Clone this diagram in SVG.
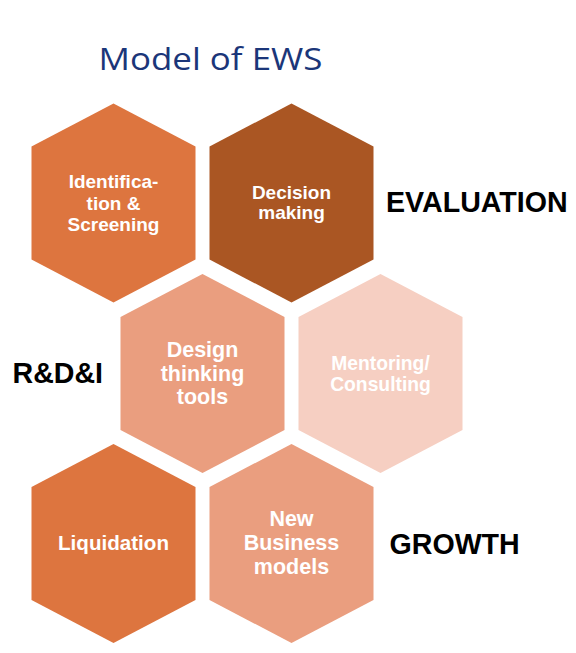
<svg xmlns="http://www.w3.org/2000/svg" width="576" height="653" viewBox="0 0 576 653">
<style>
.hx{stroke:none}
.t1{font-family:"Liberation Sans",Arial,sans-serif;font-weight:bold;font-size:19px;fill:#fff;text-anchor:middle}
.t2{font-family:"Liberation Sans",Arial,sans-serif;font-weight:bold;font-size:21.5px;fill:#fff;text-anchor:middle}
.lb{font-family:"Liberation Sans",Arial,sans-serif;font-weight:bold;font-size:28.6px;fill:#000}
.title{font-family:"Open Sans","Noto Sans",sans-serif;font-size:31px;fill:#1B3679;text-anchor:middle}
</style>
<rect width="576" height="653" fill="#fff"/>
<g id="title"><text class="title" x="210.5" y="70" textLength="224" lengthAdjust="spacingAndGlyphs">Model of EWS</text></g>
<g id="connectors"></g>
<g id="identification">
<polygon class="hx" fill="#DD753F" points="113.5,103.5 195.5,146.5 195.5,259.5 113.5,302.5 31.5,259.5 31.5,146.5"/>
<text class="t1" x="113.5" y="188">Identifica-</text>
<text class="t1" x="113.5" y="209.5">tion &amp;</text>
<text class="t1" x="113.5" y="230.5">Screening</text>
</g>
<g id="decision">
<polygon class="hx" fill="#AA5623" points="291.5,103.5 373.5,146.5 373.5,259.5 291.5,302.5 209.5,259.5 209.5,146.5"/>
<text class="t1" x="291.5" y="199">Decision</text>
<text class="t1" x="291.5" y="218.5">making</text>
</g>
<g id="design">
<polygon class="hx" fill="#EA9E7F" points="202.5,274 284.5,317 284.5,430 202.5,473 120.5,430 120.5,317"/>
<text class="t2" x="202.5" y="356.7">Design</text>
<text class="t2" x="202.5" y="380.5">thinking</text>
<text class="t2" x="202.5" y="403.5">tools</text>
</g>
<g id="mentoring">
<polygon class="hx" fill="#F6CFC2" points="380.5,274 462.5,317 462.5,430 380.5,473 298.5,430 298.5,317"/>
<text class="t1" x="380.5" y="370" style="font-size:19.3px">Mentoring/</text>
<text class="t1" x="380.5" y="391" style="font-size:19.3px">Consulting</text>
</g>
<g id="liquidation">
<polygon class="hx" fill="#DD753F" points="113.5,444 195.5,487 195.5,600 113.5,643 31.5,600 31.5,487"/>
<text class="t2" x="113.5" y="550" style="font-size:20.6px">Liquidation</text>
</g>
<g id="new-business">
<polygon class="hx" fill="#EA9E7F" points="291.5,444 373.5,487 373.5,600 291.5,643 209.5,600 209.5,487"/>
<text class="t2" x="291.5" y="526">New</text>
<text class="t2" x="291.5" y="550">Business</text>
<text class="t2" x="291.5" y="573.5">models</text>
</g>
<g id="label-evaluation"><text class="lb" x="386" y="212">EVALUATION</text></g>
<g id="label-rdi"><text class="lb" x="12.5" y="382.5">R&amp;D&amp;I</text></g>
<g id="label-growth"><text class="lb" x="389.5" y="553.5">GROWTH</text></g>
</svg>
